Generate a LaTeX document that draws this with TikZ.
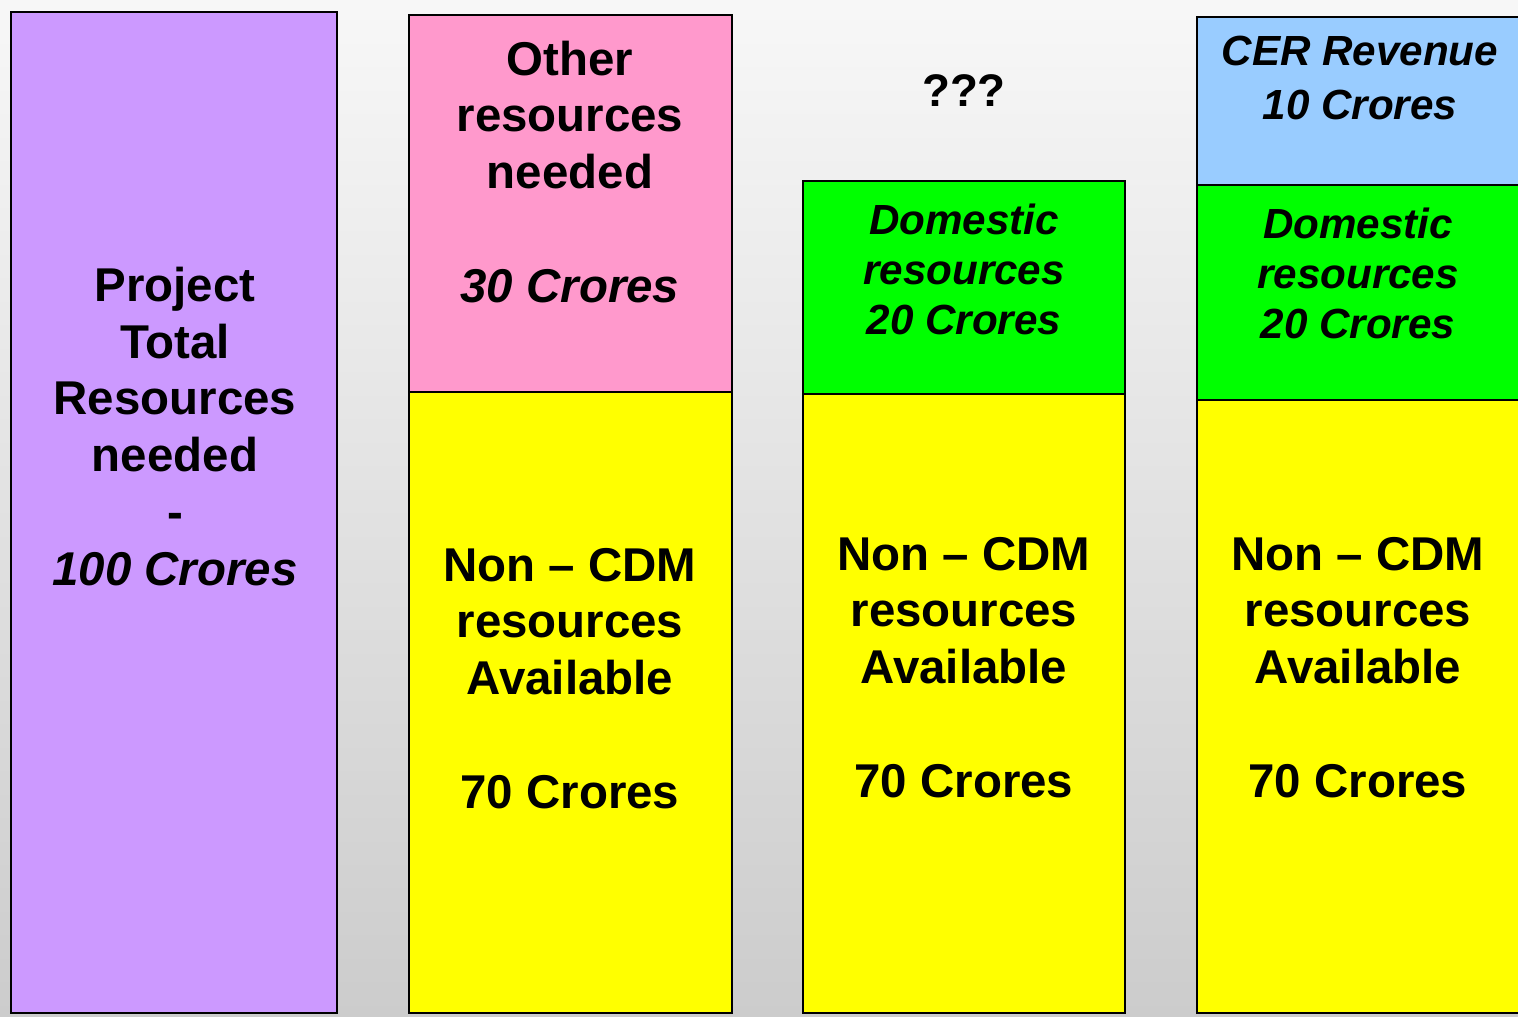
\documentclass[tikz,border=0pt]{standalone}
\usepackage{fontspec}
\setmainfont{Liberation Sans}
\usepackage{xcolor}
\usepackage{tikz}

\definecolor{lilac}{HTML}{CC99FF}
\definecolor{rosa}{HTML}{FF99CC}
\definecolor{sky}{HTML}{99CCFF}
\definecolor{lime}{HTML}{00FF00}
\definecolor{yel}{HTML}{FFFF00}

\tikzset{
  bar/.style={draw=black, line width=1.2pt},
  bigtxt/.style={font=\fontsize{27}{32.3}\selectfont\bfseries, align=center, anchor=base, inner sep=0pt},
  smalltxt/.style={font=\fontsize{24}{28.3}\selectfont\bfseries\itshape, align=center, anchor=base, inner sep=0pt},
}

\begin{document}
\begin{tikzpicture}[x=0.02cm, y=-0.02cm]
    \useasboundingbox (0,0) rectangle (1518,1017);
    \shade[top color=black!3, bottom color=black!20] (0,0) rectangle (1518,1017);

    % node base = baseline of the last line
    \begin{scope}
      \filldraw[bar, fill=lilac] (11,12) rectangle (337,1013);
      \node[bigtxt] (total) at (175,585) {Project\\Total\\Resources\\needed\\-\\\textit{100 Crores}};
    \end{scope}

    \begin{scope}
      \filldraw[bar, fill=yel] (409,392) rectangle (732,1013);
      \filldraw[bar, fill=rosa] (409,15) rectangle (732,392);
      \node[bigtxt] (other) at (570,302) {Other\\resources\\needed\\[32.3pt]\textit{30 Crores}};
      \node[bigtxt] (avail2) at (570,808) {Non -- CDM\\resources\\Available\\[32.3pt]70 Crores};
    \end{scope}

    \begin{scope}
      \filldraw[bar, fill=yel] (803,394) rectangle (1125,1013);
      \filldraw[bar, fill=lime] (803,181) rectangle (1125,394);
      \node[bigtxt, font=\fontsize{26}{31}\selectfont\bfseries] (query) at (964,107) {???};
      \node[smalltxt] (dom3) at (964,334) {Domestic\\resources\\20 Crores};
      \node[bigtxt] (avail3) at (964,797) {Non -- CDM\\resources\\Available\\[32.3pt]70 Crores};
    \end{scope}

    \begin{scope}
      \filldraw[bar, fill=yel] (1197,400) rectangle (1520,1013);
      \filldraw[bar, fill=lime] (1197,185) rectangle (1520,400);
      \filldraw[bar, fill=sky] (1197,17) rectangle (1520,185);
      \node[smalltxt, font=\fontsize{24}{31.2}\selectfont\bfseries\itshape] (cer) at (1360,120) {CER Revenue\\10 Crores};
      \node[smalltxt] (dom4) at (1358,338) {Domestic\\resources\\20 Crores};
      \node[bigtxt] (avail4) at (1358,797) {Non -- CDM\\resources\\Available\\[32.3pt]70 Crores};
    \end{scope}
\end{tikzpicture}
\end{document}
